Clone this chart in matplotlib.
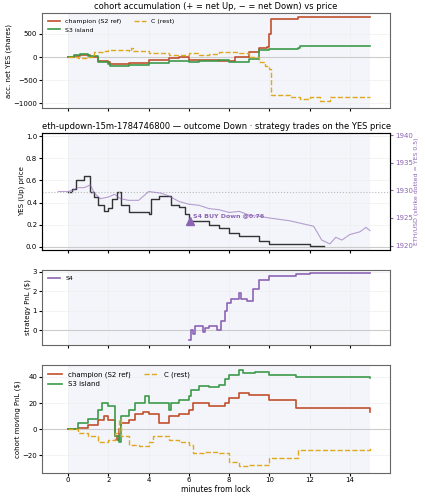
import matplotlib
matplotlib.use('Agg')
from matplotlib import pyplot as plt

# cohort accumulation (net YES shares)
champ_acc_t = [0, 0.3, 0.6, 1.1, 1.5, 2.0, 2.1, 3.0, 4.0, 5.0, 5.5, 6.0, 7.0, 7.5, 8.0, 8.3, 9.0, 9.5, 9.9, 10.0, 10.1, 11.3, 11.4, 15.0]
champ_acc = [0, 30, 50, 0, -80, -100, -150, -120, -60, -30, 0, -60, -60, -80, -80, 0, 100, 200, 210, 500, 820, 830, 870, 870]
s3_acc_t = [0, 0.3, 0.6, 1.0, 1.5, 2.0, 2.1, 3.0, 4.0, 5.0, 6.0, 6.5, 7.5, 8.0, 9.0, 9.5, 10.0, 11.4, 11.5, 15.0]
s3_acc = [0, 40, 60, 20, -100, -150, -200, -170, -120, -80, -100, -80, -60, -100, -50, 150, 180, 200, 230, 230]
c_acc_t = [0, 0.5, 1.0, 1.3, 1.8, 2.0, 3.0, 3.1, 3.2, 4.0, 5.0, 6.0, 6.5, 7.0, 7.5, 8.5, 9.0, 9.5, 9.8, 10.0, 10.1, 11.0, 11.5, 12.0, 12.5, 13.0, 15.0]
c_acc = [0, -20, 0, 100, 120, 150, 120, 200, 120, 80, 50, 80, 50, 70, 100, 80, 0, -100, -200, -250, -830, -860, -900, -870, -950, -870, -870]

# YES price and ETH price
yes_t = [0, 0.2, 0.4, 0.6, 0.8, 1.0, 1.1, 1.3, 1.5, 1.8, 2.0, 2.2, 2.4, 2.6, 3.0, 3.5, 4.0, 4.1, 4.5, 5.0, 5.1, 5.5, 5.8, 6.0, 6.5, 7.0, 7.5, 8.0, 8.5, 9.0, 9.5, 10.0, 12.0, 12.7]
yes_p = [0.5, 0.52, 0.6, 0.6, 0.64, 0.64, 0.5, 0.45, 0.38, 0.32, 0.35, 0.43, 0.5, 0.38, 0.31, 0.31, 0.3, 0.43, 0.46, 0.46, 0.38, 0.36, 0.3, 0.23, 0.23, 0.2, 0.17, 0.12, 0.1, 0.1, 0.05, 0.02, 0.01, 0.01]
eth_t = [-0.5, 0, 0.2, 0.5, 0.8, 1.1, 1.3, 1.6, 2.0, 2.3, 2.6, 3.0, 3.5, 4.0, 4.6, 5.0, 5.5, 6.0, 6.5, 7.0, 7.5, 8.0, 8.5, 9.0, 9.5, 10.0, 11.0, 12.2, 12.6, 13.0, 13.3, 13.6, 14.0, 14.5, 14.8, 15.0]
eth_p = [1929.8, 1929.8, 1930, 1930.5, 1930.5, 1931, 1929.5, 1928.5, 1928.8, 1929.3, 1928.5, 1928.2, 1928.2, 1929.8, 1929.5, 1929, 1928, 1927.5, 1927.3, 1926.7, 1926.5, 1926, 1926.2, 1925.5, 1925.3, 1925, 1924.5, 1923.5, 1921, 1920.3, 1921.5, 1921, 1922, 1922.5, 1923.3, 1922.7]
trade_t, trade_p = 6.05, 0.23

# S4 strategy PnL
s4_t = [6.0, 6.1, 6.2, 6.3, 6.6, 6.7, 6.8, 7.0, 7.4, 7.6, 7.8, 7.9, 8.1, 8.5, 8.6, 8.9, 9.2, 9.5, 10.0, 11.3, 12.0, 15.0]
s4_pnl = [-0.5, 0, -0.2, 0.2, 0.2, -0.1, 0.1, 0.2, 0, 0.5, 1.0, 1.4, 1.6, 1.9, 1.6, 1.5, 2.1, 2.6, 2.8, 2.9, 2.95, 2.97]

# cohort moving PnL
champ_pnl_t = [0, 0.5, 1.0, 1.5, 1.8, 2.0, 2.3, 2.4, 2.5, 2.6, 3.0, 3.3, 3.7, 4.0, 4.5, 5.0, 5.5, 6.0, 6.2, 7.0, 7.5, 7.8, 8.0, 8.5, 9.0, 10.0, 11.3, 15.0, 15.01]
champ_pnl = [0, 1, 3, 7, 10, 7, -5, -8, 0, 5, 7, 12, 13, 12, 5, 10, 12, 15, 20, 18, 18, 20, 24, 28, 26, 22, 16, 16, 13]
s3_pnl_t = [0, 0.5, 1.0, 1.5, 1.7, 2.0, 2.3, 2.5, 2.6, 3.0, 3.3, 3.8, 4.0, 5.0, 5.1, 5.5, 6.0, 6.1, 6.5, 7.0, 7.5, 7.8, 8.0, 8.5, 8.7, 9.3, 10.0, 11.3, 11.5, 15.0]
s3_pnl = [0, 5, 8, 15, 20, 18, -5, -10, 10, 15, 20, 25, 20, 15, 20, 22, 25, 30, 33, 32, 34, 38, 41, 45, 43, 44, 41, 40, 39.5, 39]
c_pnl_t = [0, 0.5, 1.0, 1.5, 2.0, 2.3, 2.5, 2.6, 3.0, 3.5, 4.0, 4.2, 4.8, 5.0, 5.5, 6.0, 6.2, 6.8, 7.5, 8.0, 8.5, 9.0, 10.0, 11.3, 11.4, 15.0]
c_pnl = [0, -3, -5, -10, -8, -3, 8, -5, -12, -13, -10, -5, -5, -8, -10, -12, -18, -17, -18, -25, -28, -27, -22, -22, -16, -14]

RED, GREEN, GOLD, PURPLE = '#c0502d', '#3c9a4a', '#e0a81c', '#8c64b4'
plt.rcParams['font.size'] = 5

fig = plt.figure(figsize=(4.25, 5), dpi=100)
ax1 = fig.add_axes([0.099, 0.784, 0.819, 0.19])
ax2 = fig.add_axes([0.099, 0.50, 0.819, 0.234])
ax3 = fig.add_axes([0.099, 0.31, 0.819, 0.15])
ax4 = fig.add_axes([0.099, 0.055, 0.819, 0.215])

for ax in (ax1, ax2, ax3, ax4):
    ax.axvspan(0, 15, color='#eef1f8', alpha=0.7, lw=0)
    ax.axhline(0, color='#cccccc', lw=0.8)
    ax.grid(True, color='#eeeeee', lw=0.5)
    ax.set_xlim(-1.3, 16)
    ax.set_xticks([0, 2, 4, 6, 8, 10, 12, 14])
    ax.tick_params(labelsize=5, length=2, pad=1.5)
    for s in ax.spines.values():
        s.set_color('#666666')
for ax in (ax1, ax2, ax3):
    ax.tick_params(labelbottom=False)

ax1.step(champ_acc_t, champ_acc, where='post', color=RED, lw=1.2, label='champion (S2 ref)')
ax1.step(s3_acc_t, s3_acc, where='post', color=GREEN, lw=1.2, label='S3 island')
ax1.step(c_acc_t, c_acc, where='post', color=GOLD, lw=1, ls='--', label='C (rest)')
ax1.set_ylim(-1100, 950)
ax1.set_yticks([-1000, -500, 0, 500])
ax1.set_ylabel('acc. net YES (shares)', fontsize=5, labelpad=1)
ax1.set_title('cohort accumulation (+ = net Up, − = net Down) vs price', fontsize=6, pad=3)
ax1.legend(ncol=2, loc='upper left', fontsize=4.5, frameon=False)

ax2.step(yes_t, yes_p, where='post', color='#333333', lw=1)
ax2.axhline(0.5, color='#bbbbbb', lw=0.8, ls=':')
ax2.set_ylim(-0.03, 1.03)
ax2.set_ylabel('YES (Up) price', fontsize=5, labelpad=1)
ax2.set_title('eth-updown-15m-1784746800 — outcome Down · strategy trades on the YES price', fontsize=6, pad=3)
ax2.plot(trade_t, trade_p, marker='^', color=PURPLE, ms=6)
ax2.annotate('S4 BUY Down @0.76', (trade_t, trade_p), xytext=(2, 3), textcoords='offset points',
             color=PURPLE, fontsize=4.5, fontweight='bold')
ax2r = ax2.twinx()
ax2r.plot(eth_t, eth_p, color=PURPLE, lw=0.8, alpha=0.6)
ax2r.set_ylim(1919.2, 1940.4)
ax2r.set_yticks([1920, 1925, 1930, 1935, 1940])
ax2r.tick_params(colors=PURPLE, labelsize=5, length=2, pad=1.5)
ax2r.set_ylabel('ETH/USD (strike dotted = YES 0.5)', color=PURPLE, fontsize=4.5, labelpad=1)

ax3.step(s4_t, s4_pnl, where='post', color=PURPLE, lw=1.2, label='S4')
ax3.set_ylim(-0.75, 3.1)
ax3.set_yticks([0, 1, 2, 3])
ax3.set_ylabel('strategy PnL ($)', fontsize=5, labelpad=1)
ax3.legend(loc='upper left', fontsize=4.5, frameon=False)

ax4.step(champ_pnl_t, champ_pnl, where='post', color=RED, lw=1.2, label='champion (S2 ref)')
ax4.step(s3_pnl_t, s3_pnl, where='post', color=GREEN, lw=1.2, label='S3 island')
ax4.step(c_pnl_t, c_pnl, where='post', color=GOLD, lw=1, ls='--', label='C (rest)')
ax4.set_ylim(-33, 49)
ax4.set_yticks([-20, 0, 20, 40])
ax4.set_ylabel('cohort moving PnL ($)', fontsize=5, labelpad=1)
ax4.set_xlabel('minutes from lock', fontsize=5.5, labelpad=1)
ax4.legend(ncol=2, loc='upper left', fontsize=5, frameon=False)

fig.savefig('out.png')
